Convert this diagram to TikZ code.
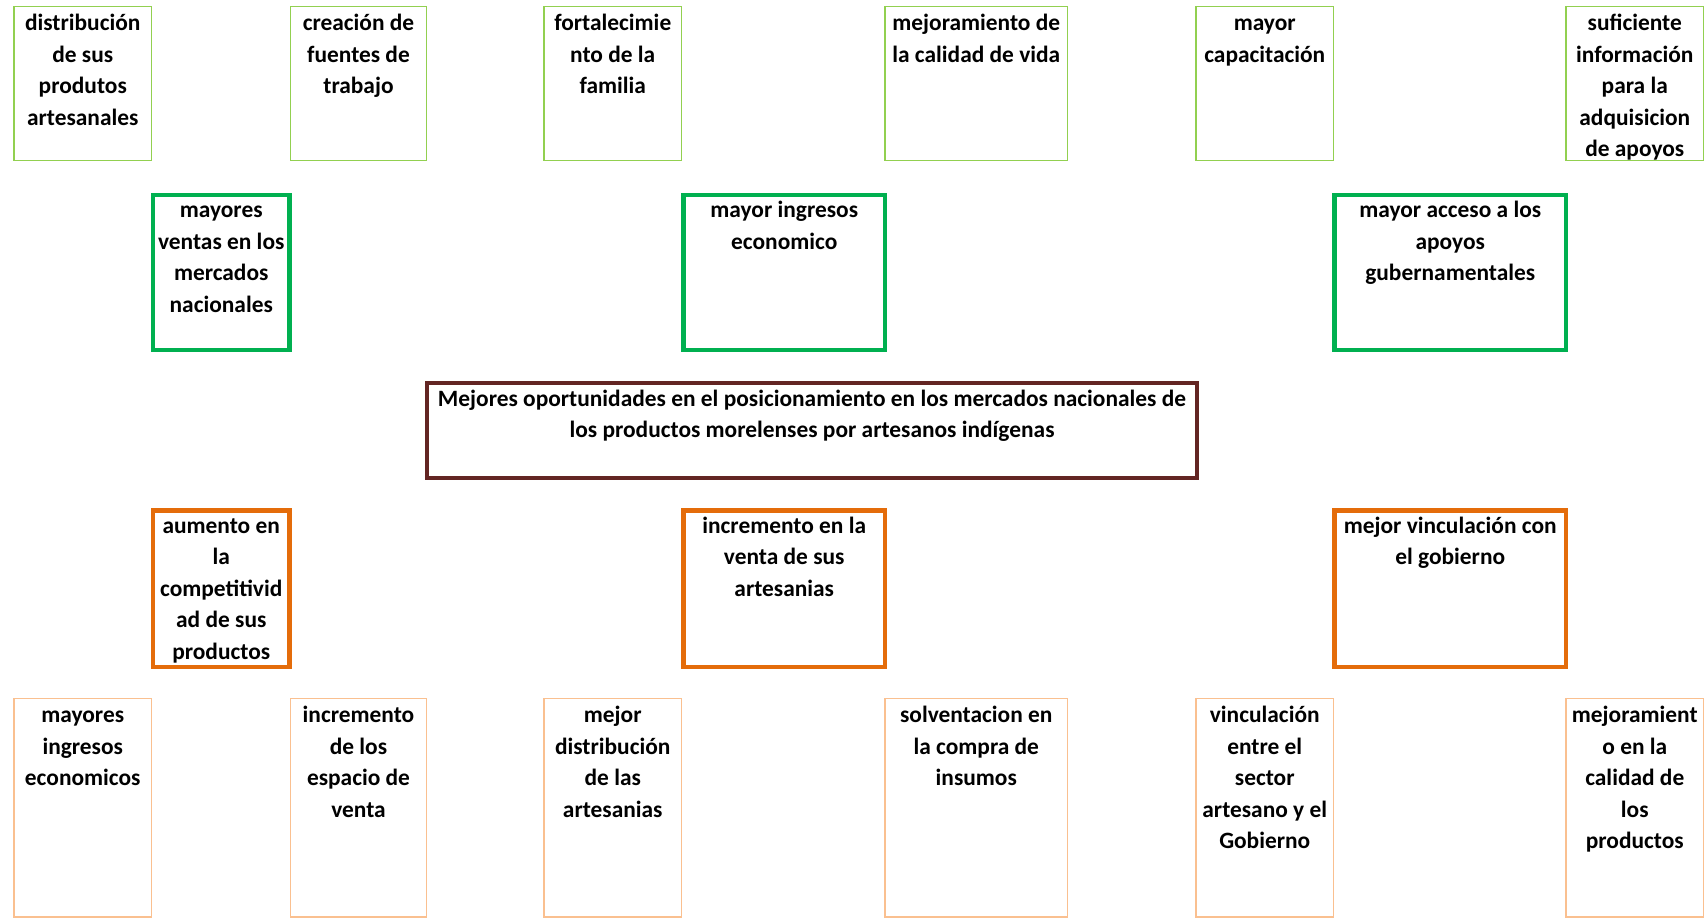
\documentclass[tikz,border=0pt]{standalone}
\usepackage{fontspec}
\setmainfont{Carlito}
\usetikzlibrary{fit}
\definecolor{lgreen}{HTML}{92D050}
\definecolor{dgreen}{HTML}{00B050}
\definecolor{dorange}{HTML}{E46C0A}
\definecolor{lorange}{HTML}{FAC090}
\definecolor{dred}{HTML}{632523}
\tikzset{
  thingreen/.style={draw=lgreen, line width=1.6pt, inner sep=0pt},
  thickgreen/.style={draw=dgreen, line width=4.6pt, inner sep=0pt},
  centralbox/.style={draw=dred, line width=4pt, inner sep=0pt},
  thickorange/.style={draw=dorange, line width=4.6pt, inner sep=0pt},
  thinorange/.style={draw=lorange, line width=1.6pt, inner sep=0pt},
  txt/.style={inner sep=0pt, align=center, font=\fontsize{23.4}{31.5}\selectfont\bfseries, text=black}
}
\newcommand{\mkbox}[7]{%
  \node[#2, fit={(#3,#4) (#5,#6)}] (#1) {};
  \node[txt, anchor=north] (#1t) at (#1.north) {\rule{0pt}{25pt}#7};
}
\begin{document}
\begin{tikzpicture}[x=1pt,y=-1pt]
\useasboundingbox (0,0) rectangle (1707,918);
% top row
\mkbox{c1}{thingreen}{14}{6.5}{151.5}{160.5}{distribución\\de sus\\produtos\\artesanales}
\mkbox{c2}{thingreen}{290.5}{6.5}{426.5}{160.5}{creación de\\fuentes de\\trabajo}
\mkbox{c3}{thingreen}{544}{6.5}{681.5}{160.5}{fortalecimie\\nto de la\\familia}
\mkbox{c4}{thingreen}{885}{6.5}{1067.5}{160.5}{mejoramiento de\\la calidad de vida}
\mkbox{c5}{thingreen}{1196}{6.5}{1333.5}{160.5}{mayor\\capacitación}
\mkbox{c6}{thingreen}{1566}{6.5}{1703.5}{160.5}{suficiente\\información\\para la\\adquisicion\\de apoyos}
% green row
\mkbox{g1}{thickgreen}{153}{195}{289.5}{350}{mayores\\ventas en los\\mercados\\nacionales}
\mkbox{g2}{thickgreen}{683.5}{195}{885}{350}{mayor ingresos\\economico}
\mkbox{g3}{thickgreen}{1334.5}{195}{1566}{350}{mayor acceso a los\\apoyos\\gubernamentales}
% central
\mkbox{m}{centralbox}{427}{383}{1197}{478}{Mejores oportunidades en el posicionamiento en los mercados nacionales de\\los productos morelenses por artesanos indígenas}
% orange row
\mkbox{o1}{thickorange}{153}{510.5}{289.5}{667}{aumento en\\la\\competitivid\\ad de sus\\productos}
\mkbox{o2}{thickorange}{683.5}{510.5}{885}{667}{incremento en la\\venta de sus\\artesanias}
\mkbox{o3}{thickorange}{1334.5}{510.5}{1566}{667}{mejor vinculación con\\el gobierno}
% bottom row
\mkbox{b1}{thinorange}{14}{698.5}{151.5}{916.8}{mayores\\ingresos\\economicos}
\mkbox{b2}{thinorange}{290.5}{698.5}{426.5}{916.8}{incremento\\de los\\espacio de\\venta}
\mkbox{b3}{thinorange}{544}{698.5}{681.5}{916.8}{mejor\\distribución\\de las\\artesanias}
\mkbox{b4}{thinorange}{885}{698.5}{1067.5}{916.8}{solventacion en\\la compra de\\insumos}
\mkbox{b5}{thinorange}{1196}{698.5}{1333.5}{916.8}{vinculación\\entre el\\sector\\artesano y el\\Gobierno}
\mkbox{b6}{thinorange}{1566}{698.5}{1703.5}{916.8}{mejoramient\\o en la\\calidad de\\los\\productos}
\end{tikzpicture}
\end{document}
